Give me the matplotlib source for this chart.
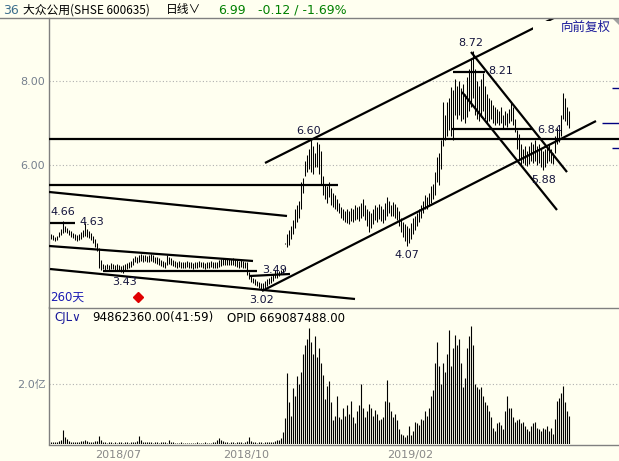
import matplotlib
matplotlib.use('Agg')
import matplotlib.pyplot as plt
from matplotlib.lines import Line2D
from matplotlib.patches import Polygon, Rectangle
import numpy as np

# ---------------- data ----------------
highs = [4.35,4.33,4.30,4.32,4.40,4.47,4.66,4.55,4.50,4.45,
         4.42,4.38,4.35,4.33,4.36,4.40,4.45,4.63,4.48,4.42,
         4.38,4.32,4.25,4.15,4.02,3.75,3.65,3.62,3.64,3.63,
         3.66,3.65,3.62,3.64,3.63,3.60,3.62,3.64,3.66,3.68,
         3.72,3.78,3.84,3.80,3.86,3.88,3.85,3.87,3.84,3.86,
         3.88,3.85,3.82,3.80,3.78,3.74,3.72,3.70,3.86,3.80,
         3.78,3.75,3.72,3.70,3.72,3.70,3.68,3.70,3.72,3.70,
         3.68,3.66,3.68,3.70,3.72,3.70,3.68,3.66,3.68,3.70,
         3.72,3.70,3.68,3.70,3.74,3.76,3.78,3.76,3.78,3.77,
         3.76,3.78,3.76,3.74,3.72,3.74,3.72,3.70,3.68,3.45,
         3.35,3.30,3.28,3.25,3.22,3.20,3.18,3.24,3.28,3.32,
         3.36,3.40,3.49,3.45,3.48,3.50,3.52,4.14,4.35,4.45,
         4.55,4.70,4.95,5.05,5.15,5.60,5.70,6.10,6.25,6.40,
         6.60,6.45,6.30,6.55,6.50,6.35,5.75,5.55,5.50,5.60,
         5.45,5.35,5.30,5.20,5.10,5.00,4.95,4.90,4.95,4.92,
         4.98,4.95,5.05,5.00,5.02,5.10,5.20,5.05,4.95,4.90,
         4.85,4.95,5.05,5.00,5.08,5.02,4.95,5.10,5.24,5.15,
         5.05,5.12,5.08,5.00,4.90,4.75,4.65,4.60,4.55,4.50,
         4.62,4.75,4.80,4.85,4.95,5.05,5.15,5.30,5.25,5.35,
         5.50,5.55,5.85,6.20,6.30,6.60,7.50,7.20,7.50,7.60,
         7.88,7.80,8.05,7.90,8.00,7.85,7.95,7.70,8.10,8.30,
         8.55,8.72,8.30,8.00,7.90,8.05,8.21,7.90,7.70,7.60,
         7.55,7.45,7.40,7.35,7.30,7.40,7.20,7.30,7.25,7.35,
         7.50,7.40,7.10,6.85,6.75,6.50,6.40,6.45,6.35,6.45,
         6.55,6.50,6.60,6.45,6.50,6.40,6.35,6.40,6.45,6.50,
         6.38,6.30,6.70,6.90,6.85,7.20,7.73,7.60,7.40,7.30]

lows = [4.25,4.22,4.20,4.22,4.28,4.33,4.38,4.40,4.38,4.33,
        4.30,4.26,4.22,4.20,4.22,4.25,4.28,4.32,4.30,4.26,
        4.22,4.15,4.05,3.95,3.55,3.50,3.52,3.50,3.52,3.51,
        3.53,3.52,3.50,3.51,3.48,3.45,3.43,3.48,3.52,3.55,
        3.58,3.62,3.68,3.66,3.70,3.72,3.70,3.72,3.70,3.70,
        3.72,3.70,3.66,3.64,3.62,3.60,3.58,3.56,3.62,3.64,
        3.62,3.60,3.58,3.56,3.57,3.55,3.55,3.56,3.58,3.56,
        3.55,3.53,3.54,3.56,3.58,3.57,3.55,3.53,3.54,3.55,
        3.58,3.56,3.54,3.56,3.58,3.60,3.62,3.61,3.63,3.62,
        3.61,3.62,3.60,3.58,3.56,3.58,3.56,3.54,3.38,3.28,
        3.22,3.18,3.15,3.12,3.08,3.05,3.02,3.08,3.12,3.16,
        3.20,3.25,3.30,3.30,3.35,3.40,3.42,4.12,4.05,4.10,
        4.25,4.35,4.50,4.65,4.75,4.95,5.35,5.75,5.85,5.90,
        5.85,5.80,5.95,5.95,5.80,5.55,5.30,5.20,5.10,5.25,
        5.05,5.00,4.95,4.90,4.85,4.75,4.70,4.65,4.62,4.60,
        4.68,4.65,4.70,4.72,4.68,4.75,4.80,4.70,4.55,4.40,
        4.50,4.60,4.70,4.65,4.72,4.68,4.62,4.70,4.80,4.85,
        4.78,4.80,4.75,4.70,4.55,4.40,4.30,4.20,4.07,4.15,
        4.25,4.35,4.45,4.55,4.65,4.75,4.85,4.95,4.95,5.05,
        5.10,5.20,5.30,5.60,5.53,5.90,6.45,6.60,6.70,6.85,
        6.70,6.60,7.20,7.10,7.20,7.05,7.10,7.00,7.15,7.30,
        7.40,7.60,7.20,7.10,7.05,7.15,7.30,7.10,7.00,7.05,
        7.10,7.00,6.95,7.00,6.95,7.00,6.90,6.95,6.92,7.00,
        7.05,6.95,6.80,6.40,6.12,6.00,6.05,6.00,5.98,6.02,
        6.10,6.05,6.10,6.00,6.05,5.95,5.88,5.95,6.05,6.10,
        6.05,6.02,6.30,6.50,6.55,6.70,7.10,7.05,6.95,6.90]

# volume in units of 1e8 (亿)
volumes = [0.08,0.07,0.06,0.08,0.10,0.15,0.47,0.25,0.18,0.10,
           0.08,0.07,0.06,0.08,0.07,0.09,0.10,0.15,0.09,0.07,
           0.08,0.07,0.09,0.10,0.27,0.12,0.08,0.06,0.05,0.07,
           0.06,0.05,0.06,0.05,0.07,0.06,0.05,0.06,0.07,0.05,
           0.06,0.07,0.08,0.10,0.27,0.12,0.08,0.07,0.06,0.07,
           0.06,0.05,0.07,0.06,0.05,0.06,0.07,0.06,0.05,0.13,
           0.07,0.06,0.05,0.04,0.05,0.06,0.05,0.04,0.05,0.04,
           0.05,0.04,0.05,0.06,0.05,0.04,0.05,0.06,0.05,0.04,
           0.05,0.06,0.08,0.12,0.20,0.14,0.10,0.08,0.06,0.05,
           0.06,0.07,0.05,0.06,0.08,0.06,0.05,0.07,0.10,0.23,
           0.10,0.08,0.06,0.05,0.07,0.06,0.05,0.08,0.07,0.06,
           0.08,0.07,0.10,0.12,0.15,0.20,0.40,0.87,2.37,1.40,
           0.93,1.87,1.60,2.27,2.00,2.40,3.00,3.30,3.50,3.87,
           3.40,3.00,3.60,2.90,3.20,2.70,2.30,1.50,1.95,2.10,
           1.40,0.80,0.95,1.60,0.90,0.85,1.20,0.95,1.30,1.00,
           1.45,0.90,0.70,1.10,1.30,2.00,1.20,0.90,1.10,1.35,
           1.20,0.95,1.15,1.00,0.80,0.85,0.90,1.45,2.15,1.40,
           1.10,0.90,1.00,0.80,0.50,0.35,0.30,0.25,0.30,0.60,
           0.30,0.45,0.75,0.70,0.65,0.85,0.80,1.10,0.95,1.20,
           1.60,1.80,2.70,3.40,2.60,2.00,2.70,2.40,3.00,3.80,
           2.60,3.20,3.65,3.30,3.50,2.70,1.90,2.20,3.20,3.60,
           3.93,3.30,2.00,1.90,1.85,1.90,1.60,1.40,1.30,1.10,
           0.90,0.55,0.45,0.70,0.75,0.65,0.50,1.10,1.60,1.20,
           1.20,0.90,0.75,0.80,0.85,0.70,0.75,0.60,0.50,0.45,
           0.60,0.70,0.75,0.55,0.50,0.45,0.55,0.50,0.60,0.45,
           0.55,0.35,0.85,1.45,1.55,1.70,1.93,1.40,1.10,0.95]

date_ticks = [34, 98, 180]
date_labels = ['2018/07', '2018/10', '2019/02']
price_ticks = [6.0, 8.0]
price_tick_labels = ['6.00', '8.00']
vol_ticks = [2.0]
vol_tick_labels = ['2.0亿']

# trend lines: (i0, p0, i1, p1)
trend_lines = [
    (-0.75, 6.62, 284.25, 6.62),
    (-0.75, 5.53, 143.75, 5.53),
    (-0.75, 5.363, 118.25, 4.79),
    (-0.75, 4.074, 101.25, 3.716),
    (-0.25, 3.525, 152.25, 2.809),
    (26.25, 3.485, 103.25, 3.485),
    (-0.25, 4.63, 12.25, 4.63),
    (99.75, 3.358, 119.75, 3.406),
    (105.75, 3.00, 272.75, 7.056),
    (107.25, 6.055, 252.25, 9.53),
    (210.25, 8.704, 258.25, 5.838),
    (205.75, 7.749, 253.25, 4.933),
    (201.25, 8.227, 217.25, 8.227),
    (200.75, 6.866, 241.25, 6.866),
]

# value labels: (text, i, price) centre positions
value_labels = [
    ('4.66', 6.25, 4.885), ('4.63', 20.75, 4.647), ('3.43', 37.25, 3.215),
    ('3.49', 112.25, 3.501), ('3.02', 105.75, 2.784), ('6.60', 129.25, 6.819),
    ('4.07', 178.25, 3.859), ('8.72', 210.25, 8.919), ('8.21', 225.25, 8.251),
    ('6.84', 249.75, 6.84), ('5.88', 246.75, 5.649),
]
right_marks = [(280.75, 7.845), (275.75, 7.01), (280.75, 6.41)]
signal_point = (43.75, 2.857)

# ---------------- figure ----------------
W, H = 619, 461
BG = '#fffff0'
GRAY = '#808080'
fig = plt.figure(figsize=(W / 100, H / 100), dpi=100, facecolor=BG)

def fx(px):
    return px / W

def fy(py):
    return 1 - py / H

XMIN, XMAX = -0.75, 284.25
ax = fig.add_axes([fx(49), fy(307), 570 / W, 289 / H])
axv = fig.add_axes([fx(49), fy(444), 570 / W, 137 / H])
for a in (ax, axv):
    a.set_facecolor('none')
    a.set_xlim(XMIN, XMAX)
    for s in ('top', 'right', 'bottom'):
        a.spines[s].set_visible(False)
    a.spines['left'].set_color(GRAY)
    a.spines['left'].set_linewidth(1)
ax.set_ylim(2.618, 9.515)
axv.set_ylim(0, 4.567)

idx = np.arange(len(highs))

# grid
ax.hlines(price_ticks, XMIN, XMAX, colors='#b0b0b0', linestyles=(0, (1, 2)), lw=0.8, zorder=1)
axv.hlines(vol_ticks, XMIN, XMAX, colors='#b0b0b0', linestyles=(0, (1, 2)), lw=0.8, zorder=1)

# price bars
ax.vlines(idx, lows, highs, colors='black', lw=0.75, zorder=3)
# volume bars
axv.vlines(idx, 0, volumes, colors='black', lw=0.8, zorder=3)

# trend lines
for (a0, p0, a1, p1) in trend_lines:
    ax.plot([a0, a1], [p0, p1], color='black', lw=1.6, solid_capstyle='butt', zorder=4)

# right blue marks
for (a0, p) in right_marks:
    ax.hlines(p, a0, XMAX, colors='#000080', lw=1, zorder=4)

# value labels
for (t, a, p) in value_labels:
    ax.text(a, p, t, ha='center', va='center', fontsize=8, color='#14143c', zorder=6,
            family='DejaVu Sans')

# signal diamond
ax.plot([signal_point[0]], [signal_point[1]], marker='D', ms=5, color='#e00000', mec='#e00000', zorder=6)
ax.text(-0.25, 2.857, '260天', ha='left', va='center', fontsize=8.5, color='#1c1cb4',
        family=['DejaVu Sans', 'Noto Sans CJK SC'], zorder=6)

# ticks
ax.set_xticks([])
ax.set_yticks(price_ticks)
ax.set_yticklabels(price_tick_labels)
ax.tick_params(axis='y', length=0, pad=3, labelsize=8, labelcolor='#76808e')
axv.set_yticks(vol_ticks)
axv.set_yticklabels(vol_tick_labels, family=['DejaVu Sans', 'Noto Sans CJK SC'])
axv.tick_params(axis='y', length=0, pad=2, labelsize=8, labelcolor='#76808e')
axv.set_xticks(date_ticks)
axv.set_xticklabels(date_labels)
axv.tick_params(axis='x', length=0, pad=4, labelsize=8, labelcolor='#888888')

# box behind 向前复权
ax.add_patch(Rectangle((fx(533), fy(36)), (612 - 533) / W, 15 / H, transform=fig.transFigure,
                       facecolor=BG, edgecolor='none', zorder=5))
fig.text(fx(586), fy(27.5), '向前复权', ha='center', va='center', fontsize=9, color='#1a1a9a',
         family=['Noto Sans CJK SC', 'DejaVu Sans'], zorder=7)
fig.add_artist(Polygon([[fx(612), fy(18)], [fx(619), fy(18)], [fx(619), fy(25)]], closed=True,
                       transform=fig.transFigure, facecolor='#a0a0a0', edgecolor='none'))

# frame lines
for (x0, x1, y) in [(0, 619, 18.5), (49, 619, 307.5), (49, 619, 444.5)]:
    fig.add_artist(Line2D([fx(x0), fx(x1)], [fy(y), fy(y)], transform=fig.transFigure, color=GRAY, lw=1))

# header
CJK = ['Noto Sans CJK SC', 'DejaVu Sans']
fig.text(fx(3), fy(10), '36', ha='left', va='center', fontsize=9, color='#3c6e8c', family='DejaVu Sans')
fig.text(fx(23), fy(10), '大众公用(SHSE 600635)', ha='left', va='center', fontsize=8.5, color='black', family=CJK)
fig.text(fx(166), fy(10), '日线∨', ha='left', va='center', fontsize=8.5, color='black', family=CJK)
fig.text(fx(218), fy(10), '6.99', ha='left', va='center', fontsize=9, color='#008000', family='DejaVu Sans')
fig.text(fx(258), fy(10), '-0.12 / -1.69%', ha='left', va='center', fontsize=9, color='#008000', family='DejaVu Sans')

# volume header
fig.text(fx(54), fy(318), 'CJL∨', ha='left', va='center', fontsize=8.5, color='#1a1a9a', family='DejaVu Sans')
fig.text(fx(92), fy(318), '94862360.00(41:59)', ha='left', va='center', fontsize=8.5, color='black', family='DejaVu Sans')
fig.text(fx(227), fy(318), 'OPID 669087488.00', ha='left', va='center', fontsize=8.5, color='black', family='DejaVu Sans')

fig.savefig('out.png', dpi=100, facecolor=BG)
